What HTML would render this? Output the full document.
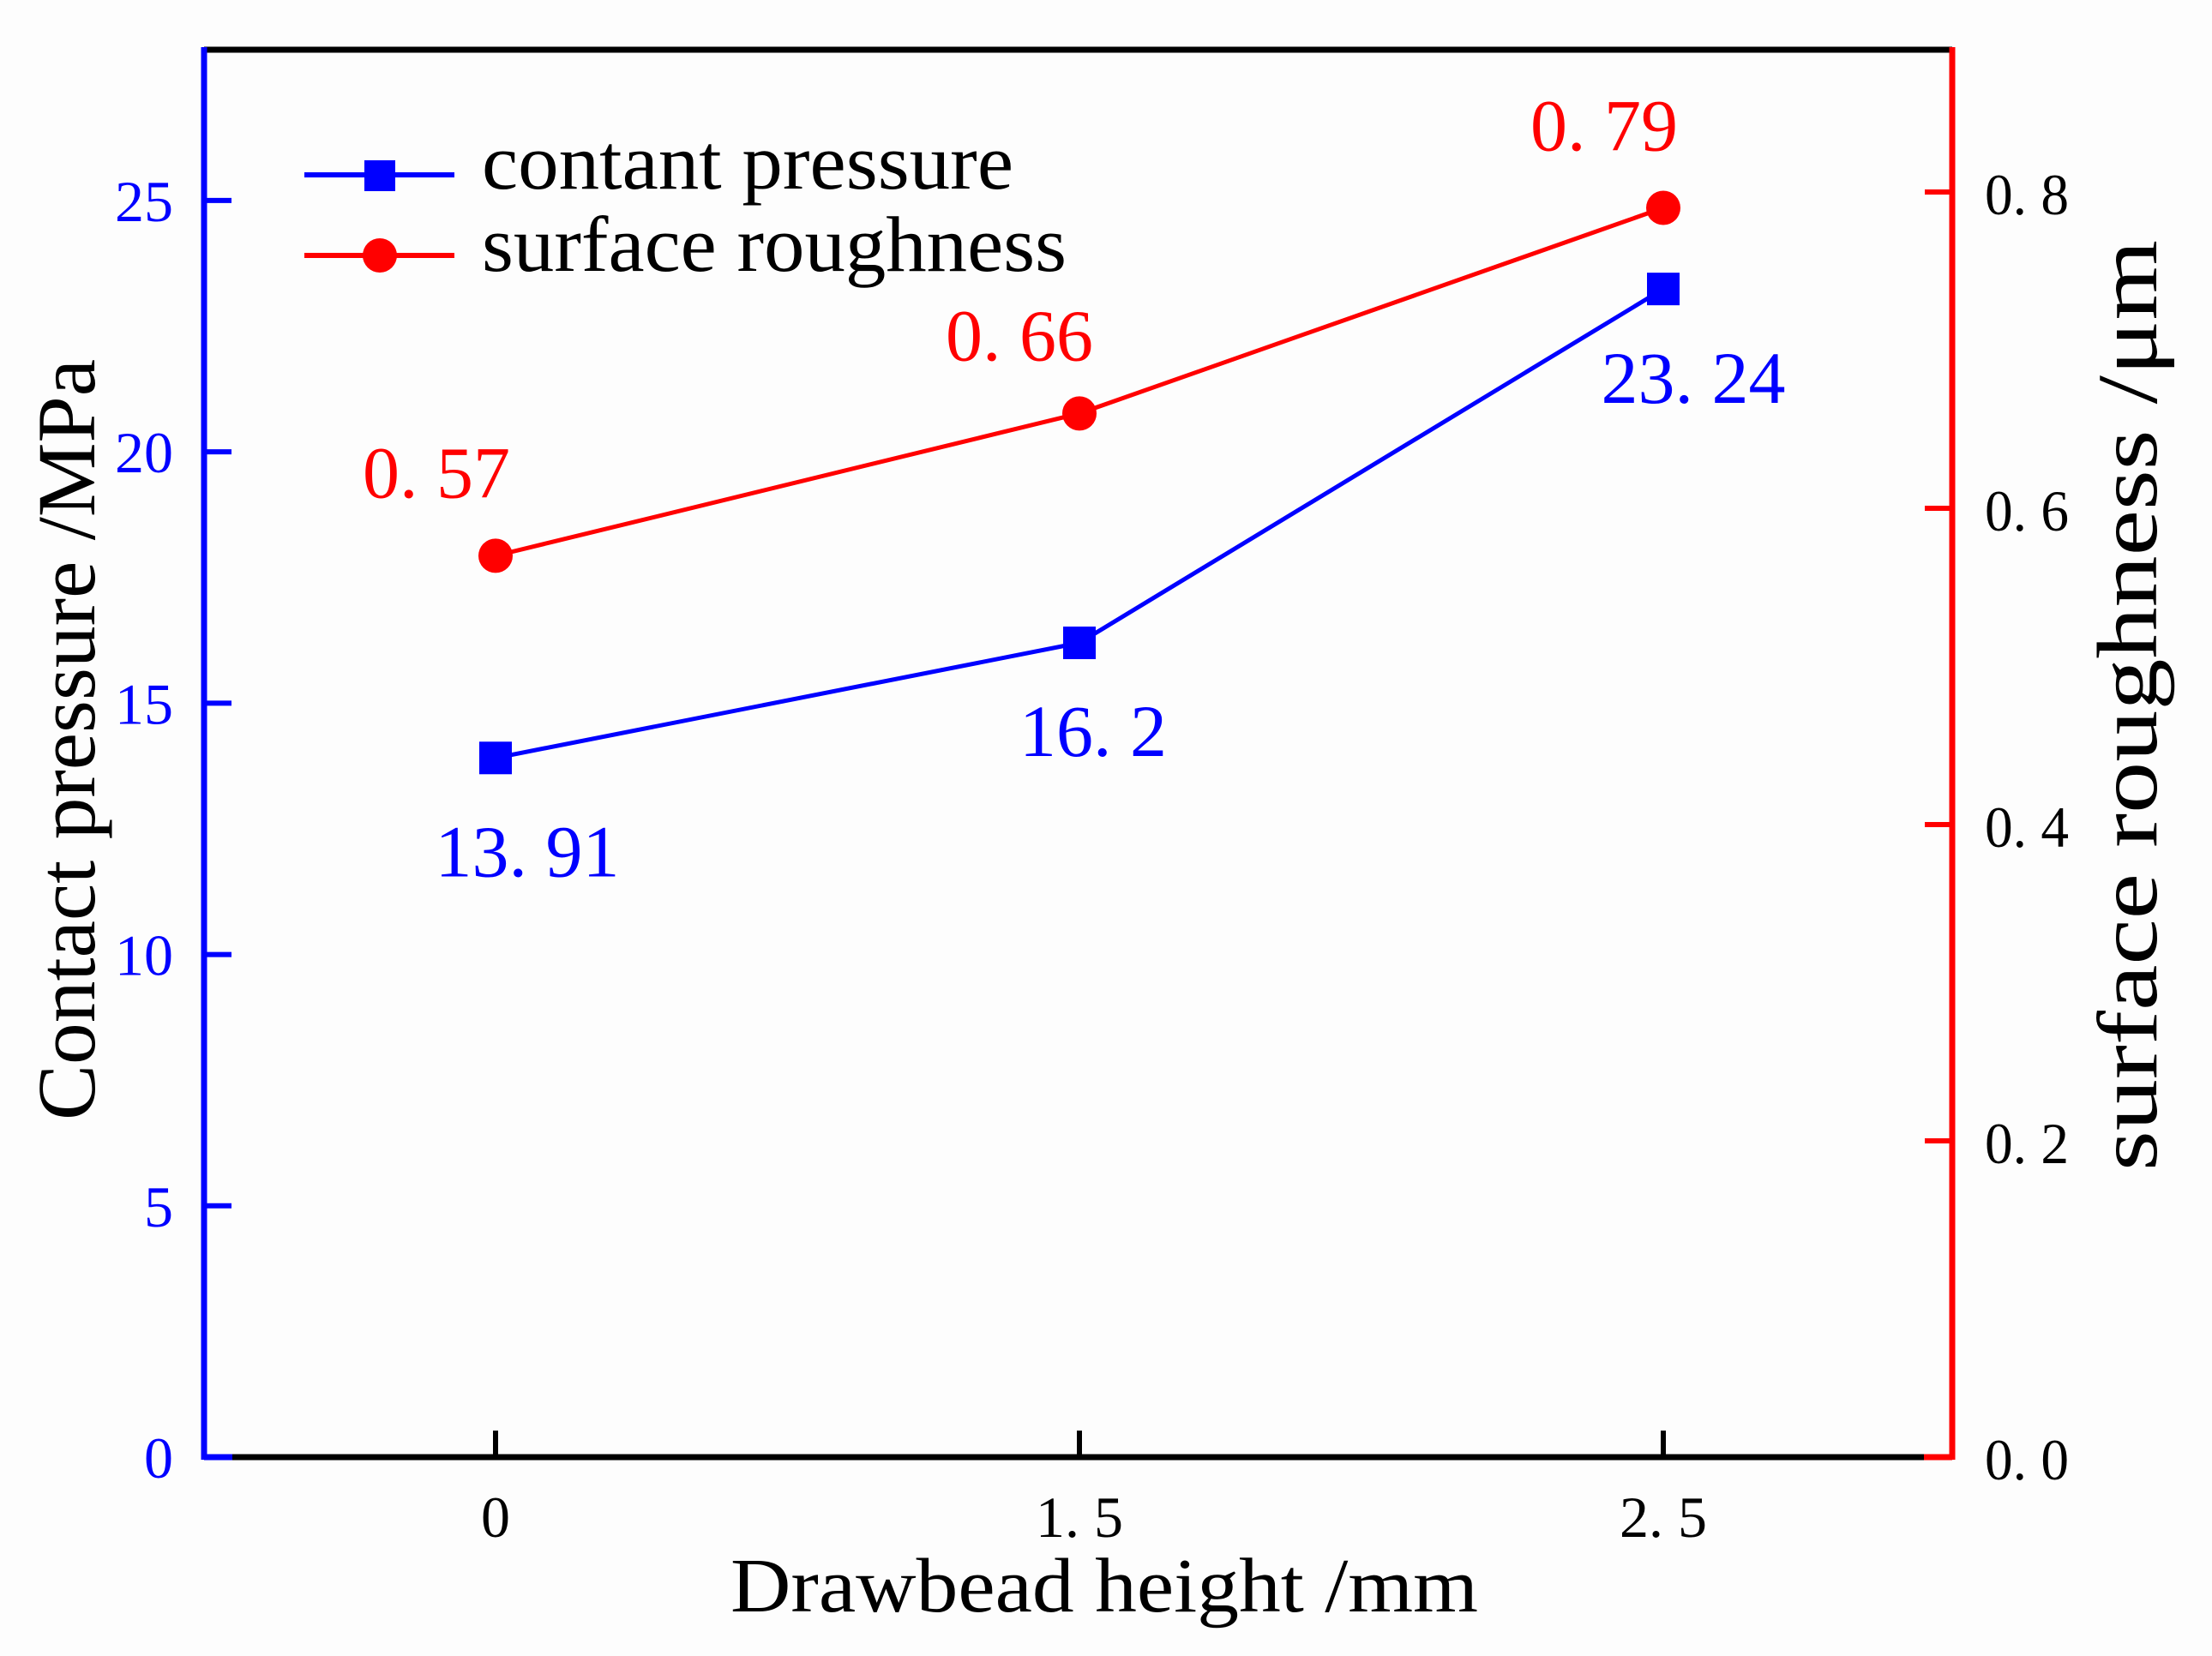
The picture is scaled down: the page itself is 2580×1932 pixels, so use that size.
<!DOCTYPE html>
<html><head><meta charset="utf-8"><style>
html,body{margin:0;padding:0;background:#fdfdfd;}
svg{display:block;}
text{font-family:"Liberation Serif",serif;}
</style></head><body>
<svg id="chart" width="2580" height="1932" viewBox="0 0 2580 1932">
<rect x="0" y="0" width="2580" height="1932" fill="#fdfdfd"/>
<g id="g-grid"></g>
<g id="g-series"></g>
<g id="g-axes"></g>
<g id="g-text"></g>
</svg>
<script>
const categories = ["0", "1. 5", "2. 5"];
const pressureValues = [13.91, 16.2, 23.24];
const roughnessValues = [0.57, 0.66, 0.79];
const pressureLabels = ["13. 91", "16. 2", "23. 24"];
const roughnessLabels = ["0. 57", "0. 66", "0. 79"];
const leftTicks = [0, 5, 10, 15, 20, 25];
const leftTickLabels = ["0", "5", "10", "15", "20", "25"];
const rightTicks = [0, 0.2, 0.4, 0.6, 0.8];
const rightTickLabels = ["0. 0", "0. 2", "0. 4", "0. 6", "0. 8"];

const NS = "http://www.w3.org/2000/svg";
const L = 238, R = 2277, T = 58, B = 1700;
const leftMax = 28.0, rightMax = 0.89;
function xPos(i){ return 578 + i * 681; }
function yLeft(v){ return B - (v / leftMax) * (B - T); }
function yRight(v){ return B - (v / rightMax) * (B - T); }
function mk(tag, attrs, parent){
  const e = document.createElementNS(NS, tag);
  for (const k in attrs) e.setAttribute(k, attrs[k]);
  parent.appendChild(e);
  return e;
}
const gS = document.getElementById("g-series");
const gA = document.getElementById("g-axes");
const gT = document.getElementById("g-text");

let e;
e = mk("line", {x1:L, y1:T, x2:R, y2:T, stroke:"#000", "stroke-width":7}, gA);


e = mk("line", {x1:L, y1:B, x2:R, y2:B, stroke:"#000", "stroke-width":7}, gA);


e = mk("line", {x1:L, y1:B, x2:L+33, y2:B, stroke:"#0000ff", "stroke-width":7}, gA);


e = mk("line", {x1:R-33, y1:B, x2:R, y2:B, stroke:"#ff0000", "stroke-width":7}, gA);


e = mk("line", {x1:L, y1:T-3, x2:L, y2:B+3, stroke:"#0000ff", "stroke-width":7}, gA);


e = mk("line", {x1:R, y1:T-3, x2:R, y2:B+3, stroke:"#ff0000", "stroke-width":7}, gA);



categories.forEach((c, i) => {
  const x = xPos(i);
  const t = mk("line", {x1:x, y1:B, x2:x, y2:B-31, stroke:"#000", "stroke-width":6}, gA);
  
  
  const lb = mk("text", {x:x, y:1793, "text-anchor":"middle", "font-size":68, fill:"#000"}, gT);
  lb.textContent = c;
  
  
});
leftTicks.forEach((v, i) => {
  const y = yLeft(v);
  const t = mk("line", {x1:L, y1:y, x2:L+32, y2:y, stroke:"#0000ff", "stroke-width":6}, gA);
  
  
  const lb = mk("text", {x:202, y:y+24, "text-anchor":"end", "font-size":68, fill:"#0000ff"}, gT);
  lb.textContent = leftTickLabels[i];
  
  
});
rightTicks.forEach((v, i) => {
  const y = yRight(v);
  const t = mk("line", {x1:R, y1:y, x2:R-32, y2:y, stroke:"#ff0000", "stroke-width":6}, gA);
  
  
  const lb = mk("text", {x:2315, y:y+26, "font-size":68, fill:"#000", textLength:98, lengthAdjust:"spacingAndGlyphs"}, gT);
  lb.textContent = rightTickLabels[i];
  
  
});

const pPts = pressureValues.map((v, i) => xPos(i) + "," + yLeft(v)).join(" ");
e = mk("polyline", {points:pPts, fill:"none", stroke:"#0000ff", "stroke-width":5}, gS);


const rPts = roughnessValues.map((v, i) => xPos(i) + "," + yRight(v)).join(" ");
e = mk("polyline", {points:rPts, fill:"none", stroke:"#ff0000", "stroke-width":5}, gS);



pressureValues.forEach((v, i) => {
  const m = mk("rect", {x:xPos(i)-19, y:yLeft(v)-19, width:38, height:38, fill:"#0000ff"}, gS);
  
  
});
roughnessValues.forEach((v, i) => {
  const m = mk("circle", {cx:xPos(i), cy:yRight(v), r:20, fill:"#ff0000"}, gS);
  
  
});

const pOff = [[37, 138], [16, 132], [35, 133]];
const rOff = [[-69, -68], [-70, -62], [-69, -67]];
pressureValues.forEach((v, i) => {
  const lb = mk("text", {x:xPos(i)+pOff[i][0], y:yLeft(v)+pOff[i][1], "text-anchor":"middle", "font-size":86, fill:"#0000ff"}, gT);
  lb.textContent = pressureLabels[i];
  
  
});
roughnessValues.forEach((v, i) => {
  const lb = mk("text", {x:xPos(i)+rOff[i][0], y:yRight(v)+rOff[i][1], "text-anchor":"middle", "font-size":86, fill:"#ff0000"}, gT);
  lb.textContent = roughnessLabels[i];
  
  
});
</script>
<script>
(function(){
  const svg = document.getElementById("chart");
  const NS = "http://www.w3.org/2000/svg";
  const g = document.createElementNS(NS, "g");
  
  
  g.innerHTML =
   '<line x1="355" y1="204" x2="530" y2="204" stroke="#0000ff" stroke-width="6"/>' +
   '<rect x="425" y="187" width="36" height="36" fill="#0000ff"/>' +
   '<text x="562" y="220" font-size="92" fill="#000" textLength="620" lengthAdjust="spacingAndGlyphs">contant pressure</text>' +
   '<line x1="355" y1="298" x2="530" y2="298" stroke="#ff0000" stroke-width="6"/>' +
   '<circle cx="443" cy="298" r="20" fill="#ff0000"/>' +
   '<text x="562" y="316" font-size="92" fill="#000" textLength="682" lengthAdjust="spacingAndGlyphs">surface roughness</text>' +
   '<text x="1288" y="1880" text-anchor="middle" font-size="90" fill="#000" textLength="872" lengthAdjust="spacingAndGlyphs">Drawbead height  /mm</text>' +
   '<text transform="translate(110,863) rotate(-90)" text-anchor="middle" font-size="96" fill="#000" textLength="888" lengthAdjust="spacingAndGlyphs">Contact pressure  /MPa</text>' +
   '<text transform="translate(2515,823) rotate(-90)" text-anchor="middle" font-size="100" fill="#000" textLength="1086" lengthAdjust="spacingAndGlyphs">surface roughness /μm</text>';
  svg.appendChild(g);
})();
</script>
</body></html>
